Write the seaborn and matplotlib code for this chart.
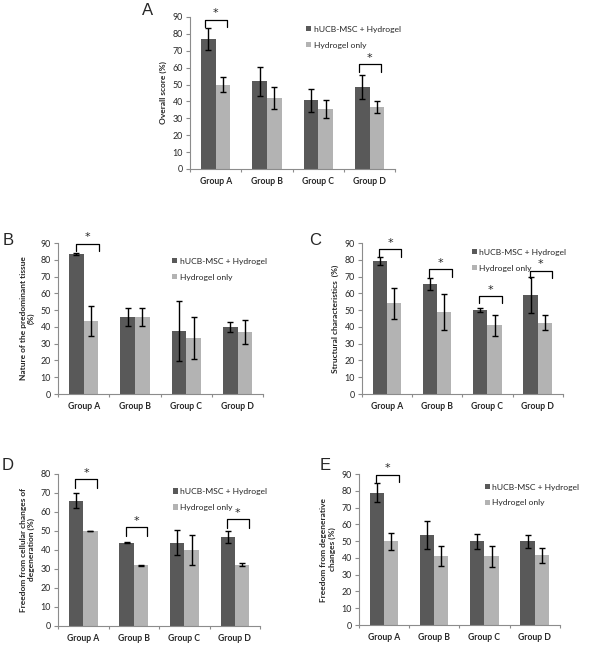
import pandas as pd
import matplotlib.pyplot as plt
import seaborn as sns

# -------------------------------
# DATA
# -------------------------------
groups = ['Group A', 'Group B', 'Group C', 'Group D']
treatments = ['hUCB-MSC + Hydrogel', 'Hydrogel only']

# A - overall score
a_msc = [77, 52, 40.8, 48.6]
a_msc_err = [6.6, 8.5, 6.8, 7.0]
a_gel = [50, 41.9, 35.4, 36.8]
a_gel_err = [4.5, 6.4, 5.4, 3.4]
a_sig = [(0, 88.4), (3, 62)]

# B - nature of predominant tissue
b_msc = [83.4, 45.9, 37.5, 39.7]
b_msc_err = [0.6, 5.6, 17.7, 3.0]
b_gel = [43.7, 45.9, 33.4, 37.1]
b_gel_err = [8.9, 5.6, 12.3, 7.0]
b_sig = [(0, 89.6)]

# C - structural characteristics
c_msc = [79.2, 65.6, 50.2, 59]
c_msc_err = [2.4, 3.6, 1.2, 10.5]
c_gel = [54, 48.9, 41, 42.5]
c_gel_err = [9, 10.6, 6.3, 4.5]
c_sig = [(0, 86.4), (1, 74.4), (2, 58.5), (3, 73.6)]

# D - freedom from cellular changes of degeneration
d_msc = [66, 43.9, 43.9, 46.9]
d_msc_err = [3.8, 0.2, 6.5, 3.3]
d_gel = [50, 31.9, 40, 32.3]
d_gel_err = [0.1, 0.1, 8, 0.7]
d_sig = [(0, 77.2), (1, 51.9), (3, 56.1)]

# E - freedom from degenerative changes
e_msc = [79, 53.8, 49.9, 49.9]
e_msc_err = [5.5, 8.5, 4.3, 3.7]
e_gel = [49.9, 40.9, 40.9, 41.5]
e_gel_err = [5, 6, 6.2, 4.6]
e_sig = [(0, 89.6)]

sns.set_style("white")
plt.rcParams['font.family'] = ['Lato', 'DejaVu Sans']

dark = '#595959'
light = '#b3b3b3'
axis_col = '#8c8c8c'

fig = plt.figure(figsize=(6, 6.45), dpi=100)

panels = [
    # label, rect, ylabel, ymax, msc, msc_err, gel, gel_err, sig, bracket span, legend anchor, label pos
    ('A', [0.3167, 0.738, 0.342, 0.2357], 'Overall score (%)', 90,
     a_msc, a_msc_err, a_gel, a_gel_err, a_sig, (-0.21, 0.22), (0.55, 0.965), (0.236, 0.995)),
    ('B', [0.0967, 0.3891, 0.342, 0.2341], 'Nature of the predominant tissue\n(%)', 90,
     b_msc, b_msc_err, b_gel, b_gel_err, b_sig, (-0.15, 0.30), (0.54, 0.925), (0.005, 0.638)),
    ('C', [0.603, 0.3891, 0.335, 0.2341], 'Structural characteristics  (%)', 90,
     c_msc, c_msc_err, c_gel, c_gel_err, c_sig, (-0.16, 0.29), (0.53, 0.985), (0.516, 0.638)),
    ('D', [0.0967, 0.0295, 0.337, 0.2357], 'Freedom from cellular changes of\ndegeneration (%)', 80,
     d_msc, d_msc_err, d_gel, d_gel_err, d_sig, (-0.16, 0.27), (0.55, 0.93), (0.003, 0.29)),
    ('E', [0.598, 0.031, 0.335, 0.234], 'Freedom from degenerative\nchanges (%)', 90,
     e_msc, e_msc_err, e_gel, e_gel_err, e_sig, (-0.15, 0.30), (0.61, 0.96), (0.532, 0.29)),
]

for (lab, rect, ylabel, ymax, msc, msc_err, gel, gel_err, sig, span, leg_xy, lab_xy) in panels:
    ax = fig.add_axes(rect)

    df = pd.DataFrame({
        'group': groups * 2,
        'treatment': [treatments[0]] * 4 + [treatments[1]] * 4,
        'value': msc + gel,
    })
    errs = [msc_err, gel_err]

    sns.barplot(data=df, x='group', y='value', hue='treatment',
                palette=[dark, light], width=0.57, errorbar=None,
                saturation=1, ax=ax, linewidth=0)

    # error bars on top of each bar
    bar_sets = list(ax.containers)
    for bars, err in zip(bar_sets, errs):
        xs = [b.get_x() + b.get_width() / 2 for b in bars]
        ys = [b.get_height() for b in bars]
        ax.errorbar(xs, ys, yerr=err, fmt='none', ecolor='black',
                    elinewidth=1, capsize=2, capthick=1, zorder=3)

    # significance brackets
    for g, h in sig:
        x0, x1 = g + span[0], g + span[1]
        ax.plot([x0, x0, x1, x1], [h - 4.5, h, h, h - 4.5], color='black',
                lw=0.9, clip_on=False, zorder=4)
        ax.text((x0 + x1) / 2, h + 0.8, '*', ha='center', va='bottom',
                fontsize=8, family='DejaVu Sans', clip_on=False)

    ax.set_xlim(-0.5, 3.5)
    ax.set_ylim(0, ymax)
    ax.set_yticks(range(0, ymax + 1, 10))
    ax.set_xlabel('')
    ax.set_ylabel(ylabel, fontsize=6.0, fontweight='bold', labelpad=4)

    sns.despine(ax=ax)
    for s in ['left', 'bottom']:
        ax.spines[s].set_color(axis_col)
        ax.spines[s].set_linewidth(0.8)

    ax.tick_params(axis='y', length=3, width=0.8, color=axis_col,
                   labelsize=6.4, pad=2, left=True)
    ax.tick_params(axis='x', length=0, labelsize=6.2, pad=6)
    for t in ax.get_xticklabels():
        t.set_fontweight('bold')
    ax.set_xticks([-0.5, 0.5, 1.5, 2.5, 3.5], minor=True)
    ax.tick_params(axis='x', which='minor', length=2.5, width=0.8,
                   color=axis_col, bottom=True)

    handles, labels = ax.get_legend_handles_labels()
    ax.legend(handles, labels, loc='upper left', bbox_to_anchor=leg_xy,
              frameon=False, fontsize=6.1, handlelength=0.6,
              handleheight=0.6, handletextpad=0.3, labelspacing=1.05,
              borderaxespad=0)

    fig.text(lab_xy[0], lab_xy[1], lab, fontsize=12,
             family=['Liberation Sans', 'DejaVu Sans'], ha='left', va='top')

fig.savefig('out.png', dpi=100)
